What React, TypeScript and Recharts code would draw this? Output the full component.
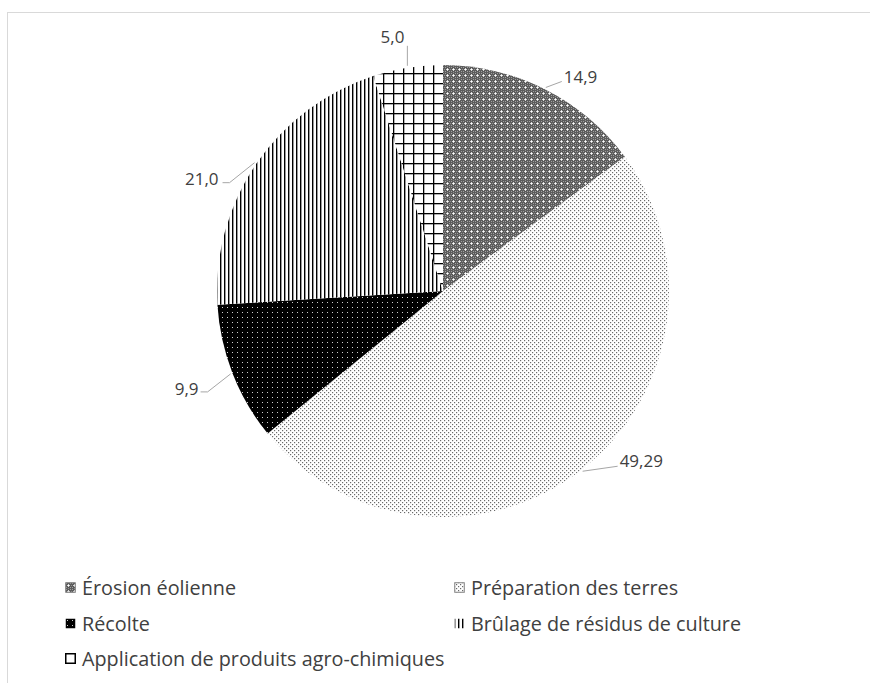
import { Cell, Legend, Pie, PieChart } from "recharts"

const CATEGORIES = [
  "Érosion éolienne",
  "Préparation des terres",
  "Récolte",
  "Brûlage de résidus de culture",
  "Application de produits agro-chimiques",
]
const VALUES = [14.9, 49.29, 9.9, 21.0, 5.0]
const PATTERN_IDS = ["p-erosion", "p-prep", "p-recolte", "p-brulage", "p-appli"]

const data = CATEGORIES.map((name, i) => ({ name, value: VALUES[i] }))

// leader line shape for each data label (Excel "best fit" placement)
const LEADERS = [
  { dx: 16, dy: -6, tail: 0, tx: 2, ty: -4, anchor: "start" },
  { dx: 35, dy: -5, tail: 0, tx: 2, ty: -5, anchor: "start" },
  { dx: -23, dy: 18, tail: -7, tx: -2, ty: -3, anchor: "end" },
  { dx: -25, dy: 20, tail: -7, tx: -4, ty: -4, anchor: "end" },
  { dx: 0, dy: -20, tail: 0, tx: -3, ty: -9, anchor: "end" },
]

const FONT = "'Open Sans', sans-serif"
const TEXT = "#404040"
const RADIAN = Math.PI / 180

const fmt = (v: number) => v.toLocaleString("fr-FR", { minimumFractionDigits: 1 })

const renderLabel = (props: any) => {
  const { cx, cy, midAngle, outerRadius, index, value } = props
  const l = LEADERS[index]
  const sx = cx + (outerRadius + 2) * Math.cos(-midAngle * RADIAN)
  const sy = cy + (outerRadius + 2) * Math.sin(-midAngle * RADIAN)
  const ex = sx + l.dx
  const ey = sy + l.dy
  const fx = ex + l.tail
  return (
    <g>
      <polyline points={`${sx},${sy} ${ex},${ey} ${fx},${ey}`} fill="none" stroke="#a6a6a6" strokeWidth={1} />
      <text x={fx + l.tx} y={ey + l.ty + 6} textAnchor={l.anchor} fill={TEXT} fontSize={17} fontFamily={FONT}>
        {fmt(value)}
      </text>
    </g>
  )
}

// legend swatches (the grid is too coarse to show in a 10px box, Excel draws it empty)
const MARKER_FILL = ["url(#p-erosion)", "url(#p-prep)", "url(#p-recolte)", "url(#p-brulage)", "#fff"]
const MARKER_STROKE = ["#7a7a7a", "#808080", "none", "none", "#000"]

const renderLegend = () => (
  <div style={{ display: "grid", gridTemplateColumns: "389px auto", paddingLeft: 65, fontFamily: FONT, fontSize: 19.8, color: TEXT }}>
    {CATEGORIES.map((name, i) => (
      <div key={name} style={{ height: 35.5, display: "flex", alignItems: "center", whiteSpace: "nowrap" }}>
        <svg width={11} height={11} style={{ marginRight: 6, flex: "none" }}>
          <rect x={0.75} y={0.75} width={9.5} height={9.5} fill={MARKER_FILL[i]} stroke={MARKER_STROKE[i]} strokeWidth={i === 4 ? 1.5 : 1} />
        </svg>
        <span>{name}</span>
      </div>
    ))}
  </div>
)

export default function App() {
  return (
    <div style={{ position: "absolute", left: 0, top: 0, width: 870, height: 683, overflow: "hidden", background: "#fff" }}>
      <div style={{ position: "absolute", left: 7, top: 12, width: 900, height: 720, border: "1px solid #d9d9d9" }} />
      <div style={{ position: "absolute", left: 0, top: 0 }}>
        <PieChart width={870} height={683} margin={{ top: 0, right: 0, bottom: 0, left: 0 }}>
          <defs>
            <pattern id="p-erosion" width={6} height={6} patternUnits="userSpaceOnUse">
              <rect width={6} height={6} fill="#5c5c5c" />
              <rect x={1} y={1} width={1} height={1} fill="#a0a0a0" />
              <rect x={5} y={1} width={1} height={1} fill="#a0a0a0" />
              <rect x={1} y={5} width={1} height={1} fill="#a0a0a0" />
              <rect x={5} y={5} width={1} height={1} fill="#a0a0a0" />
              <rect x={0} y={3} width={1} height={1} fill="#909090" />
              <rect x={3} y={0} width={1} height={1} fill="#909090" />
              <rect x={3} y={2} width={1} height={3} fill="#d8d8d8" />
              <rect x={2} y={3} width={3} height={1} fill="#d8d8d8" />
              <rect x={3} y={3} width={1} height={1} fill="#ffffff" />
            </pattern>
            <pattern id="p-prep" width={4} height={4} patternUnits="userSpaceOnUse">
              <rect width={4} height={4} fill="#fff" />
              <rect x={0} y={0} width={1.2} height={1.2} fill="#6a6a6a" />
              <rect x={2} y={2} width={1.2} height={1.2} fill="#6a6a6a" />
            </pattern>
            <pattern id="p-recolte" width={5} height={5} patternUnits="userSpaceOnUse">
              <rect width={5} height={5} fill="#000" />
              <rect x={2} y={2} width={1} height={1} fill="#d0d0d0" />
            </pattern>
            <pattern id="p-brulage" width={4} height={4} patternUnits="userSpaceOnUse">
              <rect width={4} height={4} fill="#fff" />
              <rect x={0} y={0} width={1.4} height={4} fill="#000" />
            </pattern>
            <pattern id="p-appli" width={10} height={10} patternUnits="userSpaceOnUse" x={3} y={3}>
              <rect width={10} height={10} fill="#fff" />
              <rect x={0} y={0} width={1.3} height={10} fill="#000" />
              <rect x={0} y={0} width={10} height={1.3} fill="#000" />
            </pattern>
          </defs>
          <Pie
            data={data}
            dataKey="value"
            nameKey="name"
            cx={443}
            cy={291}
            outerRadius={226}
            startAngle={90}
            endAngle={-270}
            stroke="none"
            labelLine={false}
            label={renderLabel}
            isAnimationActive={false}
          >
            {data.map((entry, index) => (
              <Cell key={`cell-${index}`} fill={`url(#${PATTERN_IDS[index]})`} />
            ))}
          </Pie>
          <Legend content={renderLegend} wrapperStyle={{ left: 0, top: 570, width: 870, bottom: "auto" }} />
        </PieChart>
      </div>
    </div>
  )
}
